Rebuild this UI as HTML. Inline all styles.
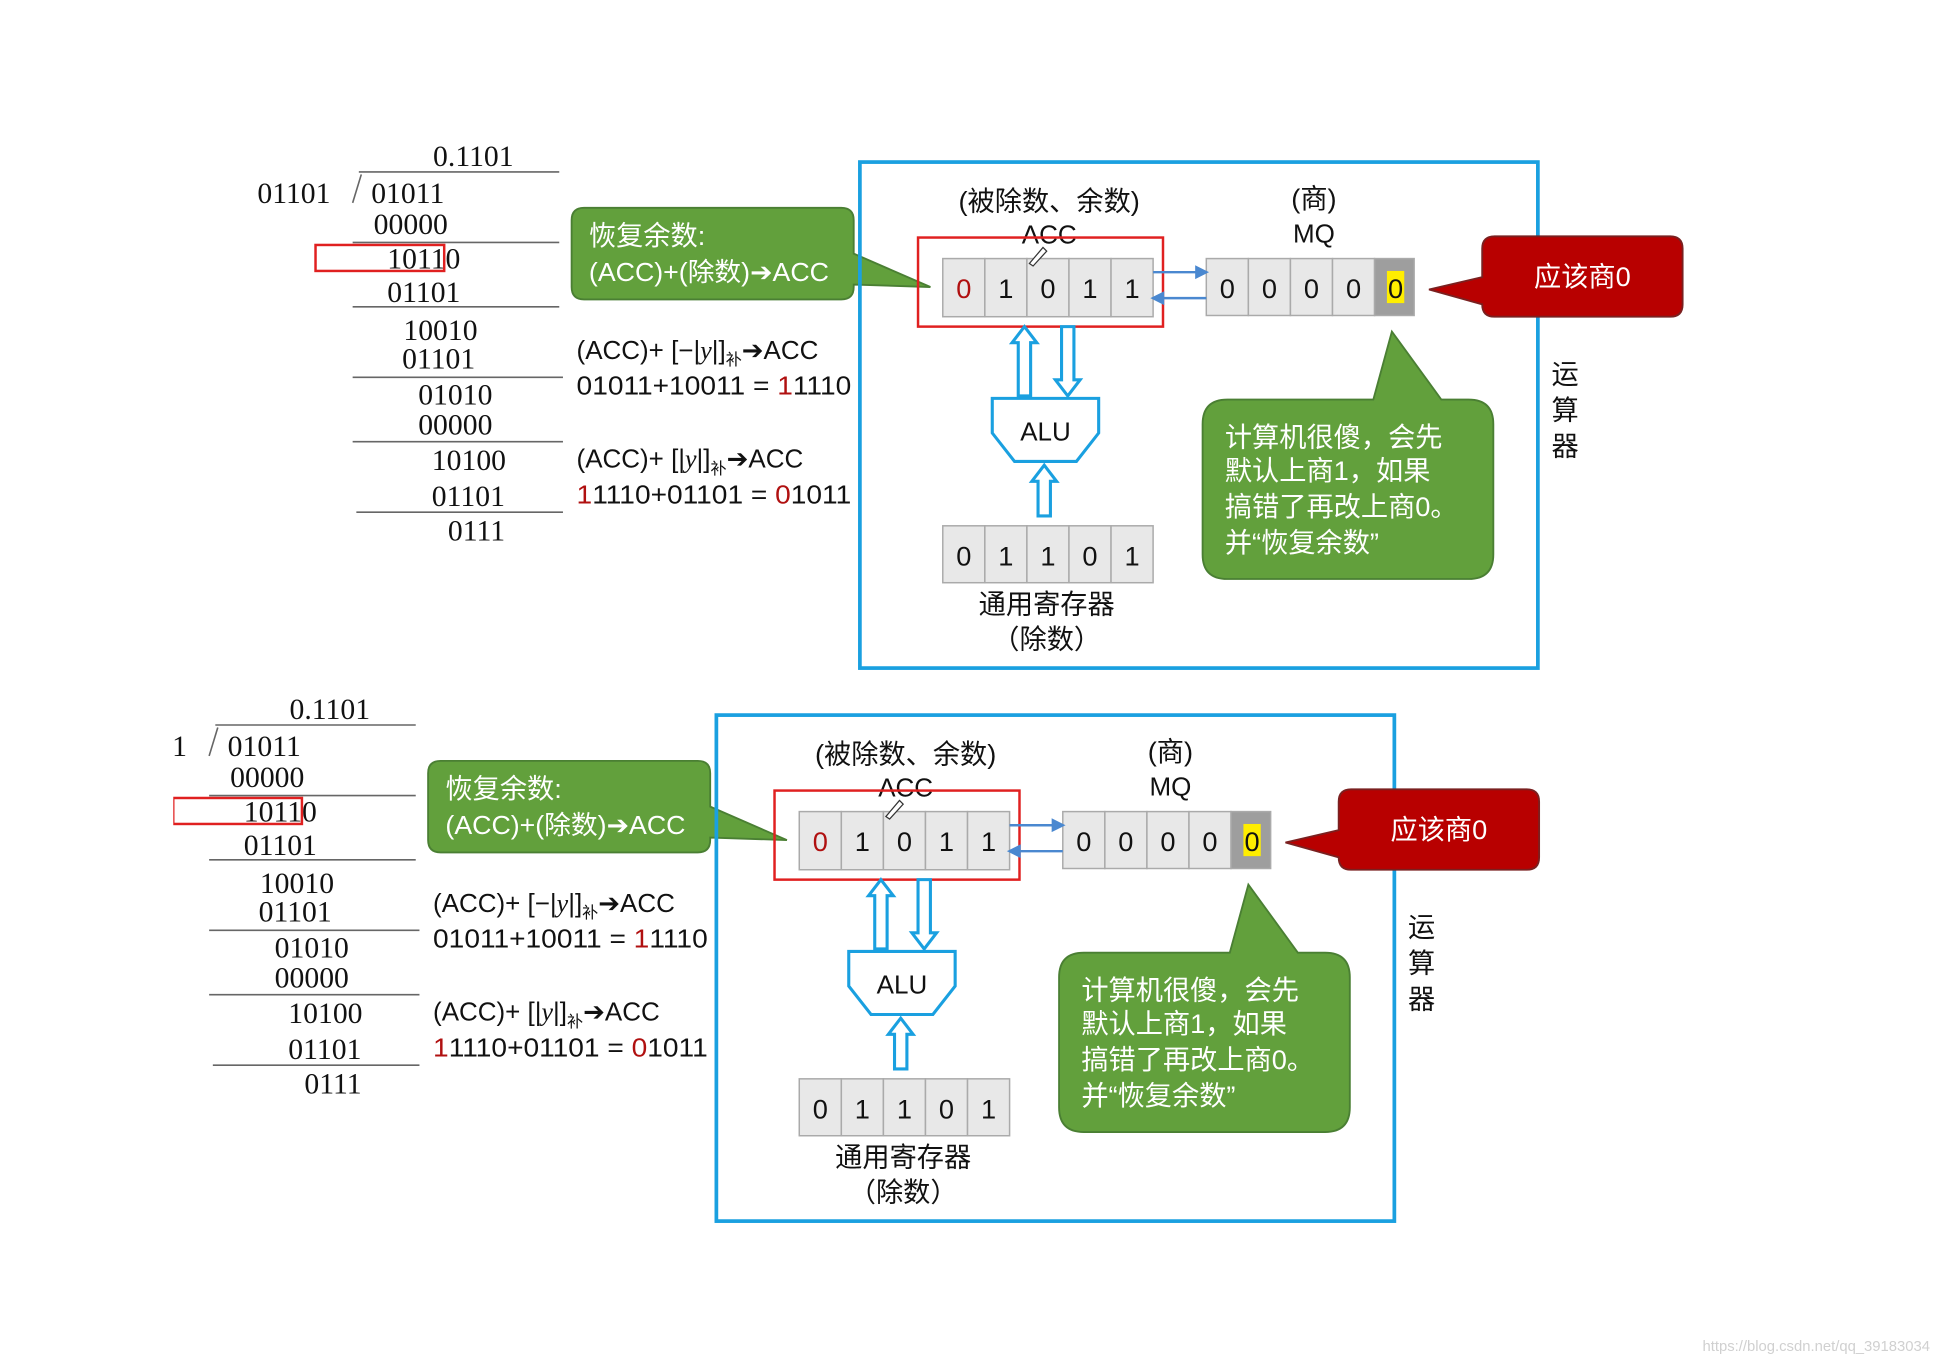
<!DOCTYPE html>
<html><head><meta charset="utf-8"><style>
html,body{margin:0;padding:0;background:#fff;width:1940px;height:1364px;overflow:hidden}
svg{display:block}
.s{font-family:"Liberation Serif",serif;font-size:24px;fill:#111}
.a{font-family:"Liberation Sans","Noto Sans CJK SC",sans-serif;fill:#111}
.w{fill:#fff}
.r{fill:#b01010}
.ar{font-family:"DejaVu Sans",sans-serif}
</style></head><body>
<svg width="1940" height="1364" viewBox="0 0 1568 1102.5" xmlns="http://www.w3.org/2000/svg">
<defs><clipPath id="c"><rect x="140" y="0" width="1428" height="1102"/></clipPath></defs>

<g id="top">
<g class="s">
<text x="350" y="134">0.1101</text>
<text x="208" y="164">01101</text>
<text x="300" y="164">01011</text>
<text x="302" y="189">00000</text>
<text x="313" y="217">10110</text>
<text x="313" y="244">01101</text>
<text x="326" y="275">10010</text>
<text x="325" y="298">01101</text>
<text x="338" y="327">01010</text>
<text x="338" y="351">00000</text>
<text x="349" y="380">10100</text>
<text x="349" y="409">01101</text>
<text x="362" y="437">0111</text>
</g>
<g stroke="#666" stroke-width="1.3">
<line x1="290" y1="139" x2="452" y2="139"/>
<line x1="292" y1="141" x2="285" y2="164"/>
<line x1="285" y1="196" x2="452" y2="196"/>
<line x1="285" y1="248" x2="452" y2="248"/>
<line x1="285" y1="305" x2="455" y2="305"/>
<line x1="285" y1="357" x2="455" y2="357"/>
<line x1="288" y1="414" x2="455" y2="414"/>
</g>
<rect x="255" y="198" width="104" height="21" fill="none" stroke="#e02020" stroke-width="2"/>
<path d="M472,168 H680 Q690,168 690,178 V205 L752,232 L690,230 V232 Q690,242 680,242 H472 Q462,242 462,232 V178 Q462,168 472,168 Z" fill="#62a03c" stroke="#4a7f33" stroke-width="1.5"/>
<text class="a w" x="476" y="198" font-size="22">恢复余数:</text>
<text class="a w" x="476" y="227" font-size="21" textLength="194" lengthAdjust="spacingAndGlyphs">(ACC)+(除数)<tspan class="ar">➔</tspan>ACC</text>
<text class="a" x="466" y="290" font-size="21">(ACC)+ [−|<tspan font-family="Liberation Serif" font-style="italic">y</tspan>|]<tspan font-size="13" dy="5">补</tspan><tspan dy="-5" class="ar">➔</tspan>ACC</text>
<text class="a" x="466" y="319" font-size="21" textLength="222" lengthAdjust="spacingAndGlyphs">01011+10011 = <tspan class="r">1</tspan>1110</text>
<text class="a" x="466" y="378" font-size="21">(ACC)+ [|<tspan font-family="Liberation Serif" font-style="italic">y</tspan>|]<tspan font-size="13" dy="5">补</tspan><tspan dy="-5" class="ar">➔</tspan>ACC</text>
<text class="a" x="466" y="407" font-size="21" textLength="222" lengthAdjust="spacingAndGlyphs"><tspan class="r">1</tspan>1110+01101 = <tspan class="r">0</tspan>1011</text>
<rect x="695" y="131" width="548" height="409" fill="none" stroke="#1aa0e0" stroke-width="3"/>
<text class="a" x="848" y="170" font-size="22" text-anchor="middle">(被除数、余数)</text>
<text class="a" x="848" y="197" font-size="21" text-anchor="middle">ACC</text>
<text class="a" x="1062" y="168" font-size="22" text-anchor="middle">(商)</text>
<text class="a" x="1062" y="196" font-size="21" text-anchor="middle">MQ</text>
<rect x="742" y="192" width="198" height="72" fill="none" stroke="#e02020" stroke-width="2"/>
<g stroke="#aaa" stroke-width="1.2" fill="#e8e8e8">
<rect x="762" y="209" width="34" height="47"/><rect x="796" y="209" width="34" height="47"/><rect x="830" y="209" width="34" height="47"/><rect x="864" y="209" width="34" height="47"/><rect x="898" y="209" width="34" height="47"/>
<rect x="975" y="209" width="34" height="46"/><rect x="1009" y="209" width="34" height="46"/><rect x="1043" y="209" width="34" height="46"/><rect x="1077" y="209" width="34" height="46"/><rect x="1111" y="209" width="32" height="46" fill="#9e9e9e"/>
<rect x="762" y="425" width="34" height="46"/><rect x="796" y="425" width="34" height="46"/><rect x="830" y="425" width="34" height="46"/><rect x="864" y="425" width="34" height="46"/><rect x="898" y="425" width="34" height="46"/>
</g>
<rect x="1121" y="219" width="14" height="26" fill="#ffee00"/>
<g class="a" font-size="22" text-anchor="middle">
<text x="779" y="241" class="r">0</text><text x="813" y="241">1</text><text x="847" y="241">0</text><text x="881" y="241">1</text><text x="915" y="241">1</text>
<text x="992" y="241">0</text><text x="1026" y="241">0</text><text x="1060" y="241">0</text><text x="1094" y="241">0</text><text x="1128" y="241">0</text>
<text x="779" y="457">0</text><text x="813" y="457">1</text><text x="847" y="457">1</text><text x="881" y="457">0</text><text x="915" y="457">1</text>
</g>
<path d="M832,213 L843,200 L846,203 L835,215 Z" fill="#fff" stroke="#333" stroke-width="1"/>
<g stroke="#4a88d0" stroke-width="2" fill="#4a88d0">
<line x1="932" y1="220" x2="970" y2="220"/><path d="M975,220 L967,216 L967,224 Z"/>
<line x1="975" y1="241" x2="937" y2="241"/><path d="M932,241 L940,237 L940,245 Z"/>
</g>
<g fill="#fff" stroke="#1aa0e0" stroke-width="2.5">
<path d="M828,264 L838,277 L833,277 L833,320 L823,320 L823,277 L818,277 Z"/>
<path d="M863,320 L873,307 L868,307 L868,264 L858,264 L858,307 L853,307 Z"/>
<path d="M844,376 L854,389 L849,389 L849,417 L839,417 L839,389 L834,389 Z"/>
<path d="M802,322 H888 V350 L870,373 H820 L802,350 Z"/>
</g>
<text class="a" x="845" y="356" font-size="21" text-anchor="middle">ALU</text>
<text class="a" x="846" y="496" font-size="22" text-anchor="middle">通用寄存器</text>
<text class="a" x="846" y="524" font-size="22" text-anchor="middle">（除数）</text>
<path d="M1208,191 H1350 Q1360,191 1360,201 V246 Q1360,256 1350,256 H1208 Q1198,256 1198,246 V246 L1155,234 L1198,224 V201 Q1198,191 1208,191 Z" fill="#b80000" stroke="#7a2020" stroke-width="1.5"/>
<text class="a w" x="1279" y="231" font-size="22" text-anchor="middle">应该商0</text>
<path d="M992,323 H1110 L1125,268 L1165,323 H1187 Q1207,323 1207,343 V448 Q1207,468 1187,468 H992 Q972,468 972,448 V343 Q972,323 992,323 Z" fill="#62a03c" stroke="#4a7f33" stroke-width="1.5"/>
<g class="a w" font-size="22">
<text x="990" y="361">计算机很傻，会先</text>
<text x="990" y="388">默认上商1，如果</text>
<text x="990" y="417">搞错了再改上商0。</text>
<text x="990" y="446">并“恢复余数”</text>
</g>
<g class="a" font-size="22" text-anchor="middle">
<text x="1265" y="310">运</text><text x="1265" y="339">算</text><text x="1265" y="368">器</text>
</g>
</g>

<g clip-path="url(#c)"><g transform="translate(-116,447)">
<g class="s">
<text x="350" y="134">0.1101</text>
<text x="208" y="164">01101</text>
<text x="300" y="164">01011</text>
<text x="302" y="189">00000</text>
<text x="313" y="217">10110</text>
<text x="313" y="244">01101</text>
<text x="326" y="275">10010</text>
<text x="325" y="298">01101</text>
<text x="338" y="327">01010</text>
<text x="338" y="351">00000</text>
<text x="349" y="380">10100</text>
<text x="349" y="409">01101</text>
<text x="362" y="437">0111</text>
</g>
<g stroke="#666" stroke-width="1.3">
<line x1="290" y1="139" x2="452" y2="139"/>
<line x1="292" y1="141" x2="285" y2="164"/>
<line x1="285" y1="196" x2="452" y2="196"/>
<line x1="285" y1="248" x2="452" y2="248"/>
<line x1="285" y1="305" x2="455" y2="305"/>
<line x1="285" y1="357" x2="455" y2="357"/>
<line x1="288" y1="414" x2="455" y2="414"/>
</g>
<rect x="256" y="198" width="104" height="21" fill="none" stroke="#e02020" stroke-width="2"/>
<path d="M472,168 H680 Q690,168 690,178 V205 L752,232 L690,230 V232 Q690,242 680,242 H472 Q462,242 462,232 V178 Q462,168 472,168 Z" fill="#62a03c" stroke="#4a7f33" stroke-width="1.5"/>
<text class="a w" x="476" y="198" font-size="22">恢复余数:</text>
<text class="a w" x="476" y="227" font-size="21" textLength="194" lengthAdjust="spacingAndGlyphs">(ACC)+(除数)<tspan class="ar">➔</tspan>ACC</text>
<text class="a" x="466" y="290" font-size="21">(ACC)+ [−|<tspan font-family="Liberation Serif" font-style="italic">y</tspan>|]<tspan font-size="13" dy="5">补</tspan><tspan dy="-5" class="ar">➔</tspan>ACC</text>
<text class="a" x="466" y="319" font-size="21" textLength="222" lengthAdjust="spacingAndGlyphs">01011+10011 = <tspan class="r">1</tspan>1110</text>
<text class="a" x="466" y="378" font-size="21">(ACC)+ [|<tspan font-family="Liberation Serif" font-style="italic">y</tspan>|]<tspan font-size="13" dy="5">补</tspan><tspan dy="-5" class="ar">➔</tspan>ACC</text>
<text class="a" x="466" y="407" font-size="21" textLength="222" lengthAdjust="spacingAndGlyphs"><tspan class="r">1</tspan>1110+01101 = <tspan class="r">0</tspan>1011</text>
<rect x="695" y="131" width="548" height="409" fill="none" stroke="#1aa0e0" stroke-width="3"/>
<text class="a" x="848" y="170" font-size="22" text-anchor="middle">(被除数、余数)</text>
<text class="a" x="848" y="197" font-size="21" text-anchor="middle">ACC</text>
<text class="a" x="1062" y="168" font-size="22" text-anchor="middle">(商)</text>
<text class="a" x="1062" y="196" font-size="21" text-anchor="middle">MQ</text>
<rect x="742" y="192" width="198" height="72" fill="none" stroke="#e02020" stroke-width="2"/>
<g stroke="#aaa" stroke-width="1.2" fill="#e8e8e8">
<rect x="762" y="209" width="34" height="47"/><rect x="796" y="209" width="34" height="47"/><rect x="830" y="209" width="34" height="47"/><rect x="864" y="209" width="34" height="47"/><rect x="898" y="209" width="34" height="47"/>
<rect x="975" y="209" width="34" height="46"/><rect x="1009" y="209" width="34" height="46"/><rect x="1043" y="209" width="34" height="46"/><rect x="1077" y="209" width="34" height="46"/><rect x="1111" y="209" width="32" height="46" fill="#9e9e9e"/>
<rect x="762" y="425" width="34" height="46"/><rect x="796" y="425" width="34" height="46"/><rect x="830" y="425" width="34" height="46"/><rect x="864" y="425" width="34" height="46"/><rect x="898" y="425" width="34" height="46"/>
</g>
<rect x="1121" y="219" width="14" height="26" fill="#ffee00"/>
<g class="a" font-size="22" text-anchor="middle">
<text x="779" y="241" class="r">0</text><text x="813" y="241">1</text><text x="847" y="241">0</text><text x="881" y="241">1</text><text x="915" y="241">1</text>
<text x="992" y="241">0</text><text x="1026" y="241">0</text><text x="1060" y="241">0</text><text x="1094" y="241">0</text><text x="1128" y="241">0</text>
<text x="779" y="457">0</text><text x="813" y="457">1</text><text x="847" y="457">1</text><text x="881" y="457">0</text><text x="915" y="457">1</text>
</g>
<path d="M832,213 L843,200 L846,203 L835,215 Z" fill="#fff" stroke="#333" stroke-width="1"/>
<g stroke="#4a88d0" stroke-width="2" fill="#4a88d0">
<line x1="932" y1="220" x2="970" y2="220"/><path d="M975,220 L967,216 L967,224 Z"/>
<line x1="975" y1="241" x2="937" y2="241"/><path d="M932,241 L940,237 L940,245 Z"/>
</g>
<g fill="#fff" stroke="#1aa0e0" stroke-width="2.5">
<path d="M828,264 L838,277 L833,277 L833,320 L823,320 L823,277 L818,277 Z"/>
<path d="M863,320 L873,307 L868,307 L868,264 L858,264 L858,307 L853,307 Z"/>
<path d="M844,376 L854,389 L849,389 L849,417 L839,417 L839,389 L834,389 Z"/>
<path d="M802,322 H888 V350 L870,373 H820 L802,350 Z"/>
</g>
<text class="a" x="845" y="356" font-size="21" text-anchor="middle">ALU</text>
<text class="a" x="846" y="496" font-size="22" text-anchor="middle">通用寄存器</text>
<text class="a" x="846" y="524" font-size="22" text-anchor="middle">（除数）</text>
<path d="M1208,191 H1350 Q1360,191 1360,201 V246 Q1360,256 1350,256 H1208 Q1198,256 1198,246 V246 L1155,234 L1198,224 V201 Q1198,191 1208,191 Z" fill="#b80000" stroke="#7a2020" stroke-width="1.5"/>
<text class="a w" x="1279" y="231" font-size="22" text-anchor="middle">应该商0</text>
<path d="M992,323 H1110 L1125,268 L1165,323 H1187 Q1207,323 1207,343 V448 Q1207,468 1187,468 H992 Q972,468 972,448 V343 Q972,323 992,323 Z" fill="#62a03c" stroke="#4a7f33" stroke-width="1.5"/>
<g class="a w" font-size="22">
<text x="990" y="361">计算机很傻，会先</text>
<text x="990" y="388">默认上商1，如果</text>
<text x="990" y="417">搞错了再改上商0。</text>
<text x="990" y="446">并“恢复余数”</text>
</g>
<g class="a" font-size="22" text-anchor="middle">
<text x="1265" y="310">运</text><text x="1265" y="339">算</text><text x="1265" y="368">器</text>
</g>
</g></g>

<text x="1560" y="1092" font-family="Liberation Sans, sans-serif" font-size="12" fill="#d0d0d0" text-anchor="end">https://blog.csdn.net/qq_39183034</text>
</svg>
</body></html>
